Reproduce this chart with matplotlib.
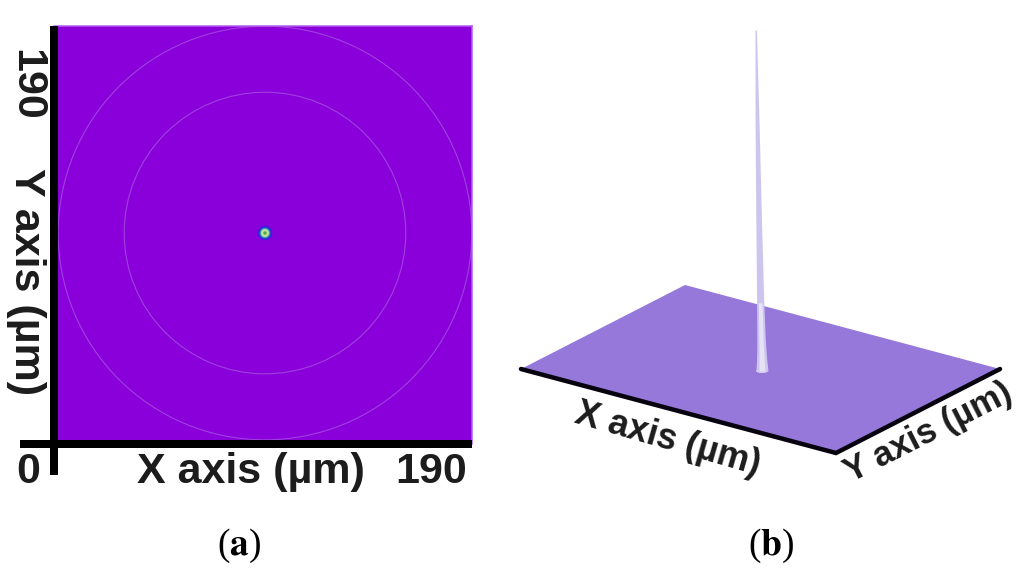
import matplotlib
matplotlib.use("Agg")
import matplotlib.pyplot as plt
from matplotlib.patches import Circle, Ellipse, Polygon
from matplotlib.transforms import Affine2D

plt.rcParams['font.family'] = ['Liberation Sans', 'DejaVu Sans']

# panel a, all in micrometres
axis_max = 190
spot_center = 95.9
ring_radii = [64, 94]
spot_radii = [3.3, 2.4, 1.8, 0.8]
spot_colors = ['#3a20d8', '#30a0b0', '#c8e0a0', '#50b040']

# panel b, plate corners in micrometres and the peak profile
plate_x = [0, 190, 190, 0]
plate_y = [0, 0, 190, 190]
peak_z = [0.0, 0.03, 0.06, 0.10, 0.20, 0.45, 0.70, 1.0]
peak_halfwidth = [6.0, 5.2, 4.6, 4.2, 3.6, 2.8, 2.1, 0.7]
peak_drift = [0.0, -0.3, -0.6, -1.0, -1.8, -3.4, -4.8, -6.3]

TEXT = '#1c1c1c'
PX = 72 / 100  # one pixel in points

fig = plt.figure(figsize=(10.24, 5.78), dpi=100)

# panel a
ax = fig.add_axes([54 / 1024, (578 - 444) / 578, 418 / 1024, 418 / 578])
ax.set_facecolor('#8a00da')
ax.set_xlim(0, axis_max)
ax.set_ylim(0, axis_max)
for r in ring_radii:
    ax.add_patch(Circle((spot_center, spot_center), r, fill=False, ec='#a040e0', lw=0.8))
for r, c in zip(spot_radii, spot_colors):
    ax.add_patch(Circle((spot_center, spot_center), r, fc=c, ec='none'))
for side in ['top', 'right']:
    ax.spines[side].set_color('#b45cf0')
    ax.spines[side].set_linewidth(1.5 * PX)
for side in ['left', 'bottom']:
    ax.spines[side].set_linewidth(8 * PX)
    ax.spines[side].set_capstyle('butt')
    ax.spines[side].set_zorder(5)
ax.set_xticks([0])
ax.set_yticks([0])
ax.set_xticklabels([])
ax.set_yticklabels([])
ax.tick_params(axis='x', length=31 * PX, width=8 * PX)
ax.tick_params(axis='y', length=34 * PX, width=8 * PX)

# overlay in pixel coordinates for panel b and the text
over = fig.add_axes([0, 0, 1, 1])
over.set_xlim(0, 1024)
over.set_ylim(578, 0)
over.axis('off')
over.patch.set_alpha(0)

# plate coordinates to screen
plate_tf = Affine2D.from_values(315 / 190, 84 / 190, 164 / 190, -84 / 190, 521, 369) + over.transData
over.add_patch(Polygon(list(zip(plate_x, plate_y)), closed=True, fc='#9678da', ec='none', transform=plate_tf))
over.plot(plate_x[:3], plate_y[:3], color='#08040f', lw=4.5 * PX, solid_capstyle='round',
          solid_joinstyle='miter', transform=plate_tf)

base_x, base_y = 762, 371
peak_scale = 341
ys = [base_y - z * peak_scale for z in peak_z]
left = [base_x + d - w for d, w in zip(peak_drift, peak_halfwidth)]
right = [base_x + d + w for d, w in zip(peak_drift, peak_halfwidth)]
inner_l = [base_x + d - w * 0.5 for d, w in zip(peak_drift, peak_halfwidth)]
inner_r = [base_x + d + w * 0.5 for d, w in zip(peak_drift, peak_halfwidth)]
over.add_patch(Ellipse((base_x, base_y), 12, 4, fc='#d8d2f2', ec='none'))
over.fill_betweenx(ys, left, right, color='#cdc5ee', lw=0)
over.fill_betweenx(ys[:5], inner_l[:5], inner_r[:5], color='#e6e2f6', lw=0)

bold = dict(fontweight='bold', color=TEXT)
size_a = 31
over.text(251, 483, 'X axis (µm)', fontsize=size_a, ha='center', va='baseline', **bold)
over.text(28, 483, '0', fontsize=size_a, ha='center', va='baseline', **bold)
over.text(431, 483, '190', fontsize=size_a, ha='center', va='baseline', **bold)
over.text(15, 282, 'Y axis (µm)', fontsize=size_a, rotation=-90, rotation_mode='anchor',
          ha='center', va='baseline', **bold)
over.text(15, 85, '190', fontsize=size_a, rotation=-90, rotation_mode='anchor',
          ha='center', va='baseline', **bold)
over.text(668, 440, 'X axis (µm)', fontsize=26, rotation=-16, rotation_mode='anchor',
          ha='center', va='center', **bold)
over.text(928, 433, 'Y axis (µm)', fontsize=25, rotation=27, rotation_mode='anchor',
          ha='center', va='center', **bold)

for x, letter in [(239, 'a'), (771, 'b')]:
    over.text(x, 546, '(' + r'$\mathbf{' + letter + '}$' + ')', fontsize=27, ha='center', va='center',
              family='Liberation Serif', color='black', math_fontfamily='stix')

fig.savefig('out.png', dpi=100)
